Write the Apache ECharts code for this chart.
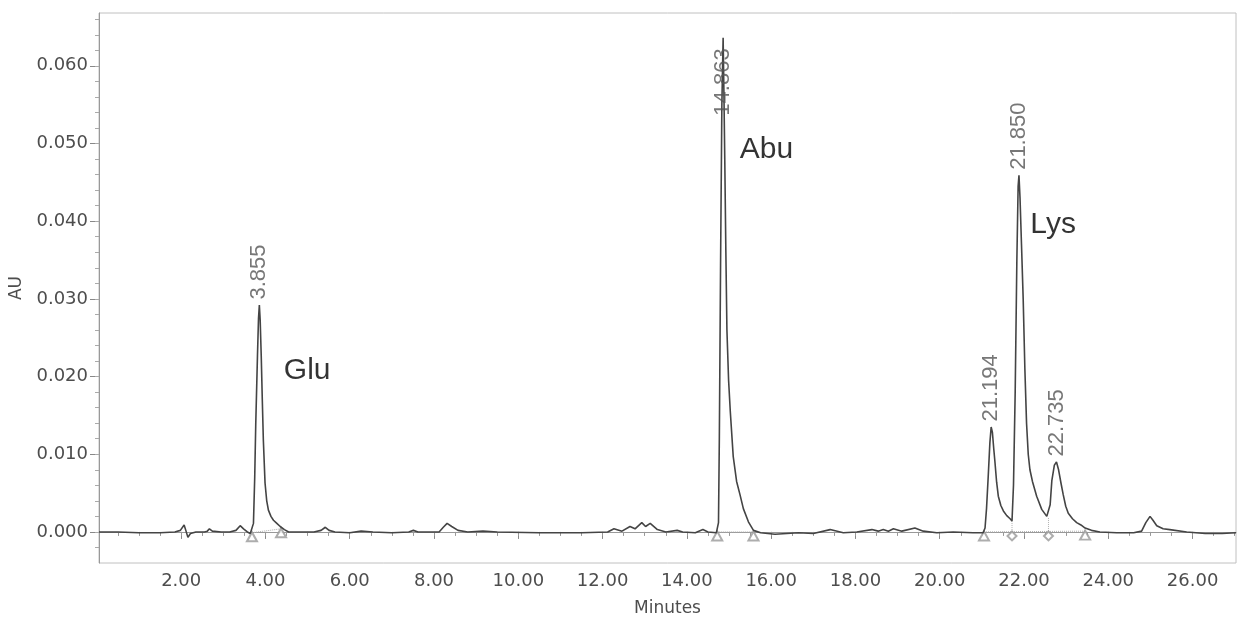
<!DOCTYPE html>
<html><head><meta charset="utf-8">
<script src="https://cdn.jsdelivr.net/npm/echarts@6/dist/echarts.min.js"></script>
<style>html,body{margin:0;padding:0;background:#fff}#c{width:1237px;height:619px}</style>
</head><body><div id="c"></div>
<script>
// ---- data ----
const xMajorTicks = [2, 4, 6, 8, 10, 12, 14, 16, 18, 20, 22, 24, 26];
const xMinorTicks = [0.5, 1, 1.5, 2, 2.5, 3, 3.5, 4, 4.5, 5, 5.5, 6, 6.5, 7, 7.5, 8, 8.5, 9, 9.5, 10,
  10.5, 11, 11.5, 12, 12.5, 13, 13.5, 14, 14.5, 15, 15.5, 16, 16.5, 17, 17.5, 18, 18.5, 19, 19.5, 20,
  20.5, 21, 21.5, 22, 22.5, 23, 23.5, 24, 24.5, 25, 25.5, 26, 26.5, 27];
const yMajorTicks = [0, 0.01, 0.02, 0.03, 0.04, 0.05, 0.06];
const yMinorTicks = [-0.002, 0, 0.002, 0.004, 0.006, 0.008, 0.01, 0.012, 0.014, 0.016, 0.018, 0.02,
  0.022, 0.024, 0.026, 0.028, 0.03, 0.032, 0.034, 0.036, 0.038, 0.04, 0.042, 0.044, 0.046, 0.048, 0.05,
  0.052, 0.054, 0.056, 0.058, 0.06, 0.062, 0.064, 0.066];

// chromatogram trace [minutes, AU]
const trace = [
  [0.05,0.0000],[0.5,0.0000],[1.0,-0.0001],[1.5,-0.0001],[1.85,0.0000],[1.98,0.0002],[2.07,0.0009],
  [2.11,0.0002],[2.16,-0.0007],[2.22,-0.0002],[2.35,0.0000],[2.55,0.0000],[2.62,0.0001],[2.67,0.0004],
  [2.74,0.0001],[2.95,0.0000],[3.15,0.0000],[3.3,0.0002],[3.40,0.0008],[3.48,0.0004],[3.57,0.0000],
  [3.64,-0.0002],[3.68,-0.0001],[3.715,0.0011],[3.745,0.0070],[3.77,0.0140],[3.81,0.0226],[3.835,0.0275],
  [3.855,0.0292],[3.875,0.0272],[3.90,0.0226],[3.925,0.0170],[3.95,0.0118],[3.99,0.0063],[4.03,0.0040],
  [4.07,0.0028],[4.13,0.0020],[4.19,0.0015],[4.27,0.0011],[4.35,0.0007],[4.45,0.0003],[4.55,0.0000],
  [4.85,0.0000],[5.15,0.0000],[5.32,0.0002],[5.42,0.0006],[5.51,0.0002],[5.65,0.0000],[6.0,-0.0001],
  [6.27,0.0001],[6.55,0.0000],[7.0,-0.0001],[7.4,0.0000],[7.51,0.0002],[7.62,0.0000],[8.12,0.0000],
  [8.22,0.0006],[8.31,0.0011],[8.42,0.0007],[8.57,0.0002],[8.8,0.0000],[9.16,0.0001],[9.5,0.0000],
  [10.5,-0.0001],[11.5,-0.0001],[12.12,0.0000],[12.27,0.0004],[12.46,0.0001],[12.65,0.0007],[12.77,0.0004],
  [12.93,0.0012],[13.02,0.0007],[13.13,0.0011],[13.3,0.0003],[13.5,0.0000],[13.77,0.0002],[13.9,0.0000],
  [14.2,-0.0001],[14.38,0.0003],[14.5,0.0000],[14.70,-0.0001],[14.75,0.0012],[14.77,0.0120],[14.80,0.0350],
  [14.83,0.0550],[14.86,0.0636],[14.88,0.0560],[14.90,0.0475],[14.925,0.0360],[14.95,0.0260],[14.99,0.0195],
  [15.03,0.0155],[15.10,0.0097],[15.18,0.0065],[15.26,0.0048],[15.34,0.0030],[15.46,0.0013],[15.58,0.0002],
  [15.75,-0.0001],[16.09,-0.0003],[16.37,-0.0002],[16.65,-0.0001],[17.0,-0.0002],[17.40,0.0003],
  [17.71,-0.0001],[18.03,0.0000],[18.39,0.0003],[18.54,0.0001],[18.66,0.0003],[18.78,0.0001],[18.90,0.0004],
  [19.10,0.0001],[19.41,0.0005],[19.61,0.0001],[19.93,-0.0001],[20.32,0.0000],[20.79,-0.0001],
  [21.03,-0.0001],[21.075,0.0005],[21.11,0.0030],[21.15,0.0071],[21.19,0.0115],[21.22,0.0135],
  [21.25,0.0128],[21.28,0.0108],[21.31,0.0090],[21.35,0.0064],[21.39,0.0046],[21.45,0.0034],[21.51,0.0027],
  [21.59,0.0021],[21.67,0.0017],[21.715,0.0014],[21.75,0.0060],[21.79,0.0179],[21.83,0.0350],[21.86,0.0445],
  [21.88,0.0459],[21.905,0.0430],[21.94,0.0370],[21.98,0.0300],[22.02,0.0210],[22.06,0.0140],[22.10,0.0100],
  [22.14,0.0080],[22.20,0.0065],[22.30,0.0046],[22.42,0.0029],[22.54,0.0020],[22.58,0.0018],[22.62,0.0035],
  [22.66,0.0066],[22.72,0.0086],[22.77,0.0090],[22.82,0.0080],[22.88,0.0062],[22.93,0.0048],[22.99,0.0033],
  [23.05,0.0024],[23.15,0.0017],[23.25,0.0012],[23.35,0.0009],[23.45,0.0005],[23.6,0.0002],[23.8,0.0000],
  [24.2,-0.0001],[24.6,-0.0001],[24.79,0.0001],[24.89,0.0012],[24.99,0.0020],[25.06,0.0015],[25.15,0.0008],
  [25.30,0.0004],[25.46,0.0003],[25.86,0.0000],[26.3,-0.0002],[26.7,-0.0002],[27.03,-0.0001]
];

// retention-time labels at peak apexes
const peakApexTimes = [3.855, 14.86, 21.22, 21.88, 22.77];
const peakApexHeights = [0.0292, 0.0636, 0.0135, 0.0459, 0.0090];
const peakLabels = ['3.855', '14.863', '21.194', '21.850', '22.735'];

// compound names
const compoundNames = ['Glu', 'Abu', 'Lys'];
const compoundTimes = [4.99, 15.89, 22.69];
const compoundHeights = [0.0208, 0.0492, 0.0396];

// integration marks
const baselineStarts = [[3.68, -0.0001], [14.72, 0.0000], [21.05, 0.0000]];
const baselineEnds = [[4.37, 0.0004], [15.58, 0.0000], [23.45, 0.0001]];
const dropTimes = [21.715, 22.58];
const dropHeights = [0.0014, 0.0018];

// ---- chart ----
const grey = '#4d4d4d';
const axisFont = {color: grey, fontSize: 18, fontFamily: 'DejaVu Sans'};
const series = [];

series.push({
  type: 'line', data: trace, showSymbol: false, symbol: 'none', sampling: null,
  lineStyle: {color: '#444', width: 1.6}, z: 4, silent: true
});

baselineStarts.forEach((s, i) => {
  series.push({type: 'line', data: [s, baselineEnds[i]], showSymbol: false, symbol: 'none',
    lineStyle: {color: '#b0b0b0', width: 1, type: 'dotted'}, z: 2, silent: true});
});
dropTimes.forEach((t, i) => {
  series.push({type: 'line', data: [[t, dropHeights[i]], [t, 0]], showSymbol: false, symbol: 'none',
    lineStyle: {color: '#b0b0b0', width: 1, type: 'dotted'}, z: 2, silent: true});
});

series.push({
  type: 'scatter', data: baselineStarts.concat(baselineEnds), symbol: 'emptyTriangle', symbolSize: [10, 9],
  symbolOffset: [0, 4], itemStyle: {color: '#999', borderWidth: 1}, z: 3, silent: true
});
series.push({
  type: 'scatter', data: dropTimes.map(t => [t, 0]), symbol: 'emptyDiamond', symbolSize: [9, 9],
  symbolOffset: [0, 4], itemStyle: {color: '#999', borderWidth: 1}, z: 3, silent: true
});

const peakLabelStyle = {show: true, formatter: p => p.name, rotate: 90, position: 'top', distance: 5,
  align: 'left', verticalAlign: 'middle', color: '#555', fontSize: 22, fontFamily: 'Liberation Sans'};
series.push({
  type: 'scatter', symbolSize: 1, itemStyle: {color: 'rgba(0,0,0,0)'}, z: 5, silent: true,
  label: peakLabelStyle,
  data: peakApexTimes.map((t, i) => {
    const d = {value: [t, peakApexHeights[i]], name: peakLabels[i]};
    if (peakLabels[i] === '14.863') d.label = {position: 'bottom', distance: 10, align: 'right'};
    return d;
  })
});

series.push({
  type: 'scatter', symbolSize: 1, itemStyle: {color: 'rgba(0,0,0,0)'}, z: 5, silent: true,
  label: {show: true, formatter: p => p.name, position: 'inside', align: 'center', verticalAlign: 'middle',
    color: '#000', fontSize: 30, fontFamily: 'Liberation Sans'},
  data: compoundTimes.map((t, i) => ({value: [t, compoundHeights[i]], name: compoundNames[i]}))
});

const chart = echarts.init(document.getElementById('c'));
chart.setOption({
  animation: false,
  backgroundColor: '#fff',
  grid: {left: 99, right: 1, top: 13, bottom: 56, containLabel: false, outerBoundsMode: 'none',
    show: true, borderColor: '#c0c0c0', borderWidth: 1},
  xAxis: [
    {type: 'value', min: 0.05, max: 27.03,
      axisLine: {show: true, lineStyle: {color: '#999'}},
      axisTick: {show: true, customValues: xMajorTicks, length: 7, lineStyle: {color: '#888'}},
      axisLabel: {customValues: xMajorTicks, formatter: v => v.toFixed(2), margin: 9, ...axisFont},
      splitLine: {show: false},
      name: 'Minutes', nameLocation: 'middle', nameGap: 37,
      nameTextStyle: {color: grey, fontSize: 17, fontFamily: 'DejaVu Sans'}},
    {type: 'value', min: 0.05, max: 27.03, position: 'bottom',
      axisLine: {show: false},
      axisTick: {show: true, customValues: xMinorTicks, length: 4, lineStyle: {color: '#999'}},
      axisLabel: {show: false}, splitLine: {show: false}}
  ],
  yAxis: [
    {type: 'value', min: -0.004, max: 0.0668,
      axisLine: {show: true, lineStyle: {color: '#999'}},
      axisTick: {show: true, customValues: yMajorTicks, length: 9, lineStyle: {color: '#888'}},
      axisLabel: {customValues: yMajorTicks, formatter: v => v.toFixed(3), margin: 11, ...axisFont},
      splitLine: {show: false},
      name: 'AU', nameLocation: 'middle', nameGap: 72,
      nameTextStyle: {color: grey, fontSize: 17, fontFamily: 'DejaVu Sans'}},
    {type: 'value', min: -0.004, max: 0.0668, position: 'left',
      axisLine: {show: false},
      axisTick: {show: true, customValues: yMinorTicks, length: 4, lineStyle: {color: '#aaa'}},
      axisLabel: {show: false}, splitLine: {show: false}}
  ],
  series: series
});
</script>
</body></html>
